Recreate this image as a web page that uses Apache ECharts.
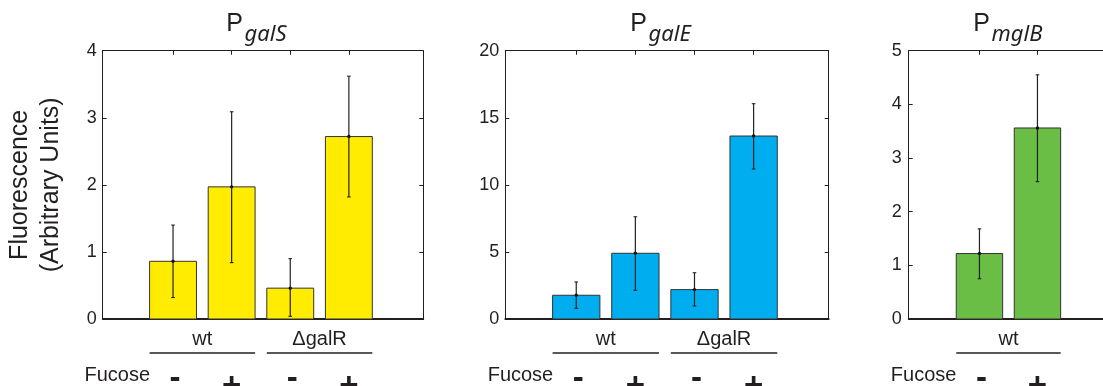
<!DOCTYPE html>
<html>
<head>
<meta charset="utf-8">
<script src="https://cdn.jsdelivr.net/npm/echarts@6/dist/echarts.min.js"></script>
<style>
html,body{margin:0;padding:0;background:#ffffff;}
#chart{width:1103px;height:386px;}
</style>
</head>
<body>
<div id="chart"></div>
<script>
// ---------- data ----------
const panelNames = ['galS', 'galE', 'mglB'];

const galSFucose = ['-', '+', '-', '+'];
const galSGroups = ['wt', 'ΔgalR'];
const galSMean = [0.86, 1.97, 0.46, 2.72];
const galSLow  = [0.32, 0.84, 0.04, 1.82];
const galSHigh = [1.40, 3.09, 0.90, 3.62];
const galSTicks = [0, 1, 2, 3, 4];

const galEFucose = ['-', '+', '-', '+'];
const galEGroups = ['wt', 'ΔgalR'];
const galEMean = [1.77, 4.90, 2.19, 13.64];
const galELow  = [0.80, 2.14, 0.97, 11.18];
const galEHigh = [2.76, 7.62, 3.45, 16.05];
const galETicks = [0, 5, 10, 15, 20];

const mglBFucose = ['-', '+'];
const mglBGroups = ['wt'];
const mglBMean = [1.22, 3.56];
const mglBLow  = [0.75, 2.56];
const mglBHigh = [1.68, 4.55];
const mglBTicks = [0, 1, 2, 3, 4, 5];

const yAxisTitle = 'Fluorescence\n(Arbitrary Units)';
const rowLabel = 'Fucose';

// ---------- layout / style ----------
const INK = '#231f20';
const FONT = '"Liberation Sans", Arial, Helvetica, sans-serif';
const BAR_W = 0.8;

const panels = [
  { name: panelNames[0], fucose: galSFucose, groups: galSGroups, mean: galSMean, low: galSLow, high: galSHigh, ticks: galSTicks,
    color: '#FFEC00', left: 102.7, width: 320.6, xMin: -0.2, xMax: 5.27, labelMargin: 6, showName: true },
  { name: panelNames[1], fucose: galEFucose, groups: galEGroups, mean: galEMean, low: galELow, high: galEHigh, ticks: galETicks,
    color: '#00AEEF', left: 505.3, width: 323.4, xMin: -0.2, xMax: 5.27, labelMargin: 6, showName: false },
  { name: panelNames[2], fucose: mglBFucose, groups: mglBGroups, mean: mglBMean, low: mglBLow, high: mglBHigh, ticks: mglBTicks,
    color: '#6ABD45', left: 908.7, width: 214, xMin: -0.22, xMax: 3.47, labelMargin: 7, showName: false, titleCenter: 1010 }
];
const TOP = 50.7, HEIGHT = 268.3;

const grid = [], xAxis = [], yAxis = [], series = [], graphic = [];

panels.forEach(function (p, i) {
  grid.push({ left: p.left, top: TOP, width: p.width, height: HEIGHT, containLabel: false, outerBoundsMode: 'none' });
  const cats = p.mean.map(function (_, k) { return k + 1; });
  const yMin = p.ticks[0], yMax = p.ticks[p.ticks.length - 1];
  const yInt = p.ticks[1] - p.ticks[0];

  // bottom x axis (thick baseline)
  xAxis.push({ gridIndex: i, type: 'value', position: 'bottom', min: p.xMin, max: p.xMax,
    axisLine: { show: true, onZero: false, lineStyle: { color: INK, width: 1.8 } },
    axisTick: { show: false }, axisLabel: { show: false }, splitLine: { show: false } });
  // top x axis (frame + category ticks)
  xAxis.push({ gridIndex: i, type: 'value', position: 'top', min: p.xMin, max: p.xMax,
    axisLine: { show: true, onZero: false, lineStyle: { color: INK, width: 1 } },
    axisTick: { show: true, inside: true, length: 4, customValues: cats, lineStyle: { color: INK, width: 1 } },
    axisLabel: { show: false }, splitLine: { show: false } });
  // left y axis
  yAxis.push({ gridIndex: i, type: 'value', position: 'left', min: yMin, max: yMax, interval: yInt,
    axisLine: { show: true, onZero: false, lineStyle: { color: INK, width: 1 } },
    axisTick: { show: true, inside: true, length: 4, lineStyle: { color: INK, width: 1 } },
    axisLabel: { show: true, margin: p.labelMargin, color: INK, fontFamily: FONT, fontSize: 18 },
    splitLine: { show: false },
    name: p.showName ? yAxisTitle : '',
    nameLocation: 'middle', nameRotate: 90, nameGap: 36,
    nameTextStyle: { color: INK, fontFamily: FONT, fontSize: 25, lineHeight: 31 } });
  // right y axis (frame)
  yAxis.push({ gridIndex: i, type: 'value', position: 'right', min: yMin, max: yMax, interval: yInt,
    axisLine: { show: true, onZero: false, lineStyle: { color: INK, width: 1 } },
    axisTick: { show: true, inside: true, length: 4, lineStyle: { color: INK, width: 1 } },
    axisLabel: { show: false }, splitLine: { show: false } });

  const xi = i * 2, yi = i * 2;

  // bars with error bars
  series.push({
    type: 'custom', xAxisIndex: xi, yAxisIndex: yi, clip: false, z: 3,
    data: p.mean.map(function (m, k) { return [k + 1, m, p.low[k], p.high[k]]; }),
    renderItem: function (params, api) {
      const x = api.value(0), m = api.value(1), lo = api.value(2), hi = api.value(3);
      const tl = api.coord([x - BAR_W / 2, m]);
      const br = api.coord([x + BAR_W / 2, 0]);
      const pm = api.coord([x, m]);
      const pl = api.coord([x, lo]);
      const ph = api.coord([x, hi]);
      const cap = 1.8;
      return { type: 'group', children: [
        { type: 'rect', shape: { x: tl[0], y: tl[1], width: br[0] - tl[0], height: br[1] - tl[1] },
          style: { fill: p.color, stroke: '#333333', lineWidth: 1 } },
        { type: 'line', shape: { x1: pm[0], y1: pl[1], x2: pm[0], y2: ph[1] }, style: { stroke: '#222222', lineWidth: 1.2 } },
        { type: 'line', shape: { x1: pm[0] - cap, y1: pl[1], x2: pm[0] + cap, y2: pl[1] }, style: { stroke: '#222222', lineWidth: 1.1 } },
        { type: 'line', shape: { x1: pm[0] - cap, y1: ph[1], x2: pm[0] + cap, y2: ph[1] }, style: { stroke: '#222222', lineWidth: 1.1 } },
        { type: 'circle', shape: { cx: pm[0], cy: pm[1], r: 1.7 }, style: { fill: '#111111' } }
      ] };
    }
  });

  // group labels with underline
  series.push({
    type: 'custom', xAxisIndex: xi, yAxisIndex: yi, clip: false, silent: true, z: 3,
    data: p.groups.map(function (_, g) { return [g * 2 + 1, g * 2 + 2]; }),
    renderItem: function (params, api) {
      const a = api.coord([api.value(0) - BAR_W / 2, 0]);
      const b = api.coord([api.value(1) + BAR_W / 2, 0]);
      const base = a[1];
      return { type: 'group', children: [
        { type: 'line', shape: { x1: a[0], y1: base + 34, x2: b[0], y2: base + 34 }, style: { stroke: INK, lineWidth: 1.6 } },
        { type: 'text', style: { text: p.groups[params.dataIndex], x: (a[0] + b[0]) / 2, y: base + 20.5,
            align: 'center', verticalAlign: 'middle', fill: INK, font: '20px ' + FONT } }
      ] };
    }
  });

  // fucose - / + row
  series.push({
    type: 'custom', xAxisIndex: xi, yAxisIndex: yi, clip: false, silent: true, z: 3,
    data: cats.map(function (c) { return [c, 0]; }),
    renderItem: function (params, api) {
      const c = api.coord([api.value(0), 0]);
      const s = p.fucose[params.dataIndex];
      const kids = [
        { type: 'text', style: { text: s, x: c[0] + (s === '-' ? 2 : 0), y: c[1] + (s === '-' ? 60.3 : 67.5),
            align: 'center', verticalAlign: 'middle', fill: INK, font: 'bold 33px ' + FONT } }
      ];
      if (params.dataIndex === 0) {
        kids.push({ type: 'text', style: { text: rowLabel, x: c[0] - 23, y: c[1] + 56.5,
            align: 'right', verticalAlign: 'middle', fill: INK, font: '20px ' + FONT } });
      }
      return { type: 'group', children: kids };
    }
  });

  // title: P with italic subscript
  const cx = (p.titleCenter || (p.left + p.width / 2)) - 20;
  graphic.push({ type: 'text', x: cx, y: 24.6, style: { text: 'P', align: 'right', verticalAlign: 'middle',
    fill: INK, font: '25px ' + FONT } });
  graphic.push({ type: 'text', x: cx + 1.5, y: 34.5, style: { text: p.name, align: 'left', verticalAlign: 'middle',
    fill: INK, font: 'italic 22px "Noto Sans", "Open Sans", sans-serif' } });
});

const chart = echarts.init(document.getElementById('chart'), null, { renderer: 'canvas' });
chart.setOption({
  animation: false,
  backgroundColor: '#ffffff',
  grid: grid, xAxis: xAxis, yAxis: yAxis, series: series, graphic: graphic
});
</script>
</body>
</html>
